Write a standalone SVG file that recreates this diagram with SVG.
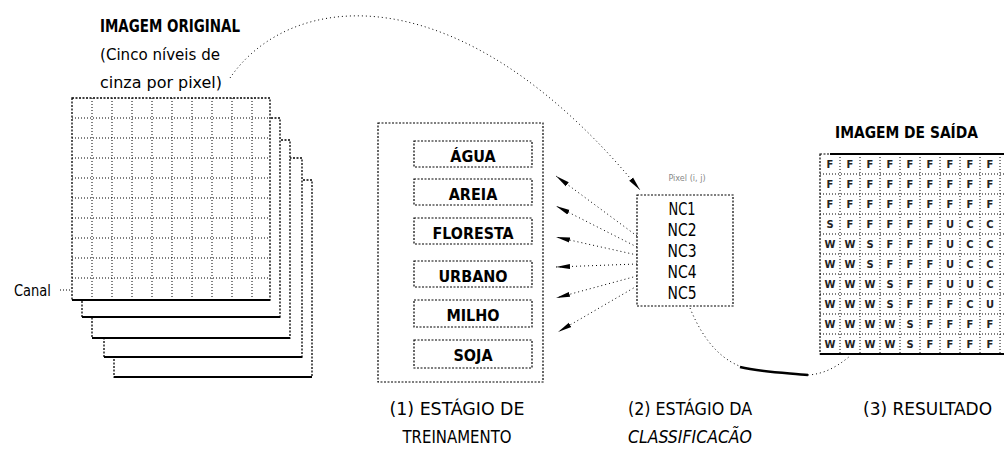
<svg xmlns="http://www.w3.org/2000/svg" width="1004" height="455" viewBox="0 0 1004 455">
<style>
.bg{fill:#fff}
.dot{fill:none;stroke:#000;stroke-width:1;stroke-dasharray:1 2}
.edge{fill:#fff;stroke:#000;stroke-width:1.3;stroke-dasharray:2 1.5}
.thick{fill:none;stroke:#000;stroke-width:2}
.box{fill:#fff;stroke:#000;stroke-width:1.2;stroke-dasharray:2 1.5}
.lbl{font-family:"DejaVu Sans Condensed","DejaVu Sans","Liberation Sans",sans-serif;fill:#000}
.b{font-weight:bold}
.cell{font-family:"DejaVu Sans Condensed","DejaVu Sans",sans-serif;font-size:11px;font-weight:bold;fill:#222;text-anchor:middle}
.conn{fill:none;stroke:#000;stroke-width:1;stroke-dasharray:1 3}
</style>
<defs>
<marker id="ah" markerUnits="userSpaceOnUse" markerWidth="15" markerHeight="8" refX="14" refY="4" orient="auto">
<path d="M0,1.5 L14,4 L0,6.5 z" fill="#000"/>
</marker>
</defs>
<rect class="bg" x="0" y="0" width="1004" height="455"/>

<g id="input-image">
<text class="lbl b" x="100" y="32" font-size="17" textLength="140" lengthAdjust="spacingAndGlyphs">IMAGEM ORIGINAL</text>
<text class="lbl" x="100" y="60" font-size="16" textLength="120" lengthAdjust="spacingAndGlyphs">(Cinco níveis de</text>
<text class="lbl" x="100" y="88" font-size="16" textLength="122" lengthAdjust="spacingAndGlyphs">cinza por pixel)</text>
<rect class="edge" x="114" y="180" width="198" height="197"/>
<rect class="edge" x="104" y="158" width="198" height="199"/>
<rect class="edge" x="92" y="140" width="198" height="198"/>
<rect class="edge" x="82" y="118" width="198" height="199"/>
<rect class="edge" x="72" y="98" width="198" height="202"/>
<path class="thick" d="M72,300 H270 M82,317 H280 M92,338 H290 M104,357 H302 M114,377 H312"/>
<path class="dot" d="M92,98V300M112,98V300M132,98V300M152,98V300M172,98V300M192,98V300M212,98V300M232,98V300M252,98V300M72,118H270M72,138H270M72,158H270M72,178H270M72,198H270M72,218H270M72,238H270M72,258H270M72,278H270"/>
<text class="lbl" x="14" y="296" font-size="15" textLength="37" lengthAdjust="spacingAndGlyphs">Canal</text>
<path class="dot" d="M60,290 H70"/>
</g>

<g id="training-stage">
<rect class="box" x="378" y="123" width="165" height="259"/>
<g id="agua"><rect class="box" x="414" y="141" width="118" height="26"/><text class="lbl b" x="473" y="162" font-size="16" text-anchor="middle">ÁGUA</text></g>
<g id="areia"><rect class="box" x="414" y="179" width="118" height="26"/><text class="lbl b" x="473" y="200" font-size="16" text-anchor="middle">AREIA</text></g>
<g id="floresta"><rect class="box" x="414" y="218" width="118" height="26"/><text class="lbl b" x="473" y="239" font-size="16" text-anchor="middle" textLength="81" lengthAdjust="spacingAndGlyphs">FLORESTA</text></g>
<g id="urbano"><rect class="box" x="414" y="261" width="118" height="26"/><text class="lbl b" x="473" y="282" font-size="16" text-anchor="middle">URBANO</text></g>
<g id="milho"><rect class="box" x="414" y="300" width="118" height="27"/><text class="lbl b" x="473" y="321" font-size="16" text-anchor="middle">MILHO</text></g>
<g id="soja"><rect class="box" x="414" y="340" width="118" height="28"/><text class="lbl b" x="473" y="361" font-size="16" text-anchor="middle">SOJA</text></g>
<text class="lbl" x="457" y="415" font-size="17" text-anchor="middle" textLength="135" lengthAdjust="spacingAndGlyphs">(1) ESTÁGIO DE</text>
<text class="lbl" x="457" y="443" font-size="17" text-anchor="middle" textLength="109" lengthAdjust="spacingAndGlyphs">TREINAMENTO</text>
</g>

<g id="classification-stage">
<text class="lbl" x="687" y="181" font-size="9" style="fill:#888" text-anchor="middle">Pixel (i, j)</text>
<rect class="box" x="637" y="195" width="96" height="111"/>
<text class="lbl" x="682" y="215" font-size="18" text-anchor="middle" textLength="27" lengthAdjust="spacingAndGlyphs">NC1</text>
<text class="lbl" x="682" y="236" font-size="18" text-anchor="middle" textLength="29" lengthAdjust="spacingAndGlyphs">NC2</text>
<text class="lbl" x="682" y="257" font-size="18" text-anchor="middle" textLength="29" lengthAdjust="spacingAndGlyphs">NC3</text>
<text class="lbl" x="682" y="278" font-size="18" text-anchor="middle" textLength="29" lengthAdjust="spacingAndGlyphs">NC4</text>
<text class="lbl" x="682" y="299" font-size="18" text-anchor="middle" textLength="29" lengthAdjust="spacingAndGlyphs">NC5</text>
<text class="lbl" x="690" y="415" font-size="17" text-anchor="middle" textLength="124" lengthAdjust="spacingAndGlyphs">(2) ESTÁGIO DA</text>
<text class="lbl" x="690" y="443" font-size="17" font-style="italic" text-anchor="middle" textLength="124" lengthAdjust="spacingAndGlyphs">CLASSIFICACÃO</text>
</g>

<g id="output-image">
<text class="lbl b" x="835" y="138" font-size="16" textLength="143" lengthAdjust="spacingAndGlyphs">IMAGEM DE SAÍDA</text>
<rect class="box" x="820" y="154" width="200" height="200"/>
<path class="thick" d="M830,154 H1004 M820,354 H1004"/>
<path class="dot" d="M840,154V354M860,154V354M880,154V354M900,154V354M920,154V354M940,154V354M960,154V354M980,154V354M1000,154V354M820,174H1004M820,194H1004M820,214H1004M820,234H1004M820,254H1004M820,274H1004M820,294H1004M820,314H1004M820,334H1004"/>
<g class="cell">
<text x="830" y="168">F</text><text x="850" y="168">F</text><text x="870" y="168">F</text><text x="890" y="168">F</text><text x="910" y="168">F</text><text x="930" y="168">F</text><text x="950" y="168">F</text><text x="970" y="168">F</text><text x="990" y="168">F</text>
<text x="830" y="188">F</text><text x="850" y="188">F</text><text x="870" y="188">F</text><text x="890" y="188">F</text><text x="910" y="188">F</text><text x="930" y="188">F</text><text x="950" y="188">F</text><text x="970" y="188">F</text><text x="990" y="188">F</text>
<text x="830" y="208">F</text><text x="850" y="208">F</text><text x="870" y="208">F</text><text x="890" y="208">F</text><text x="910" y="208">F</text><text x="930" y="208">F</text><text x="950" y="208">F</text><text x="970" y="208">F</text><text x="990" y="208">F</text>
<text x="830" y="228">S</text><text x="850" y="228">F</text><text x="870" y="228">F</text><text x="890" y="228">F</text><text x="910" y="228">F</text><text x="930" y="228">F</text><text x="950" y="228">U</text><text x="970" y="228">C</text><text x="990" y="228">C</text>
<text x="830" y="248">W</text><text x="850" y="248">W</text><text x="870" y="248">S</text><text x="890" y="248">F</text><text x="910" y="248">F</text><text x="930" y="248">F</text><text x="950" y="248">U</text><text x="970" y="248">C</text><text x="990" y="248">C</text>
<text x="830" y="268">W</text><text x="850" y="268">W</text><text x="870" y="268">S</text><text x="890" y="268">F</text><text x="910" y="268">F</text><text x="930" y="268">F</text><text x="950" y="268">U</text><text x="970" y="268">C</text><text x="990" y="268">C</text>
<text x="830" y="288">W</text><text x="850" y="288">W</text><text x="870" y="288">W</text><text x="890" y="288">S</text><text x="910" y="288">F</text><text x="930" y="288">F</text><text x="950" y="288">U</text><text x="970" y="288">U</text><text x="990" y="288">C</text>
<text x="830" y="308">W</text><text x="850" y="308">W</text><text x="870" y="308">W</text><text x="890" y="308">S</text><text x="910" y="308">F</text><text x="930" y="308">F</text><text x="950" y="308">F</text><text x="970" y="308">C</text><text x="990" y="308">U</text>
<text x="830" y="328">W</text><text x="850" y="328">W</text><text x="870" y="328">W</text><text x="890" y="328">W</text><text x="910" y="328">S</text><text x="930" y="328">F</text><text x="950" y="328">F</text><text x="970" y="328">F</text><text x="990" y="328">F</text>
<text x="830" y="348">W</text><text x="850" y="348">W</text><text x="870" y="348">W</text><text x="890" y="348">W</text><text x="910" y="348">S</text><text x="930" y="348">F</text><text x="950" y="348">F</text><text x="970" y="348">F</text><text x="990" y="348">F</text>
</g>
<text class="lbl" x="863" y="415" font-size="17" textLength="129" lengthAdjust="spacingAndGlyphs">(3)  RESULTADO</text>
</g>

<g id="connectors">
<path class="conn" d="M230,78 C290,-10 460,-30 640,190" marker-end="url(#ah)"/>
<path class="conn" d="M637,236 L556,176" marker-end="url(#ah)"/>
<path class="conn" d="M637,247 L556,206" marker-end="url(#ah)"/>
<path class="conn" d="M637,255 L556,237" marker-end="url(#ah)"/>
<path class="conn" d="M637,264 L556,267" marker-end="url(#ah)"/>
<path class="conn" d="M637,276 L556,298" marker-end="url(#ah)"/>
<path class="conn" d="M637,286 L558,332" marker-end="url(#ah)"/>
<path class="conn" d="M690,308 C705,345 725,362 745,368"/>
<path fill="none" stroke="#000" stroke-width="2.5" d="M740,367 C760,372 790,373 808,375"/>
<path class="conn" d="M808,375 C825,374 838,366 850,356"/>
</g>
</svg>
